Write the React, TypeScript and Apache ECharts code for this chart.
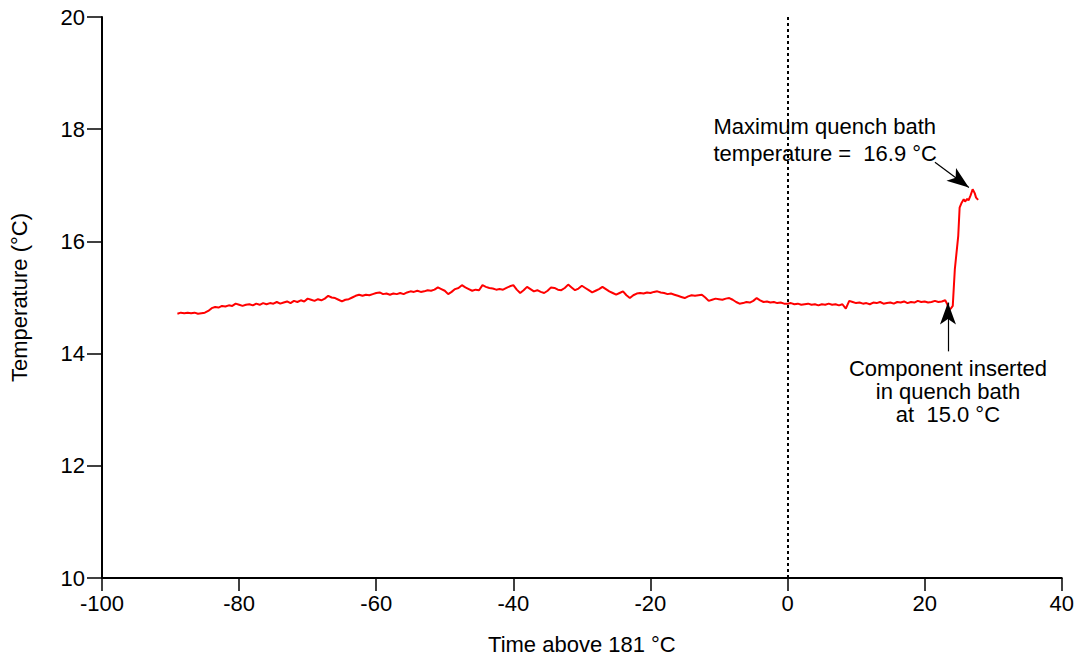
import React, { useEffect, useRef } from "react";
import * as echarts from "echarts";

// Sampled quench bath temperature (°C), every STEP seconds from START_TIME
const START_TIME = -89;
const STEP = 0.5;
const temps: number[] = [
  14.71, 14.73, 14.72, 14.73, 14.72, 14.73, 14.71, 14.72, 14.73, 14.76,
  14.81, 14.83, 14.82, 14.85, 14.84, 14.86, 14.85, 14.89, 14.87, 14.85,
  14.87, 14.88, 14.86, 14.89, 14.87, 14.9, 14.88, 14.9, 14.89, 14.92,
  14.89, 14.91, 14.93, 14.9, 14.94, 14.92, 14.95, 14.93, 14.98, 14.96,
  14.94, 14.97, 14.95, 14.98, 15.03, 15.0, 14.99, 14.96, 14.93, 14.96,
  14.97, 15.0, 15.03, 15.05, 15.03, 15.05, 15.04, 15.06, 15.08, 15.09,
  15.06, 15.07, 15.05, 15.07, 15.06, 15.08, 15.06, 15.09, 15.11, 15.1,
  15.12, 15.1, 15.11, 15.13, 15.12, 15.14, 15.18, 15.15, 15.12, 15.06,
  15.1, 15.15, 15.17, 15.22, 15.18, 15.15, 15.12, 15.14, 15.13, 15.22,
  15.19, 15.17, 15.16, 15.14, 15.15, 15.14, 15.17, 15.2, 15.22, 15.14,
  15.08, 15.13, 15.19, 15.15, 15.11, 15.13, 15.1, 15.08, 15.12, 15.18,
  15.17, 15.14, 15.13, 15.17, 15.23, 15.18, 15.13, 15.16, 15.21, 15.17,
  15.13, 15.09, 15.12, 15.15, 15.19, 15.15, 15.11, 15.08, 15.05, 15.08,
  15.11, 15.04, 14.99, 15.04, 15.07, 15.08, 15.07, 15.09, 15.08, 15.1,
  15.11, 15.09, 15.08, 15.06, 15.07, 15.05, 15.03, 15.01, 14.99, 15.02,
  15.04, 15.03, 15.04, 15.05, 15.0, 14.94, 14.96, 14.98, 14.97, 14.96,
  14.98, 14.99, 14.96, 14.92, 14.89, 14.9, 14.92, 14.91, 14.94, 14.99,
  14.95, 14.92, 14.93, 14.91, 14.92, 14.9, 14.91, 14.89, 14.89, 14.9,
  14.88, 14.89, 14.87, 14.88, 14.89, 14.87, 14.88, 14.86, 14.88, 14.87,
  14.89, 14.87, 14.88, 14.86, 14.88, 14.8, 14.94, 14.92, 14.9, 14.91,
  14.89, 14.9, 14.88, 14.91, 14.9, 14.92, 14.89, 14.9, 14.91, 14.89,
  14.92, 14.91, 14.93, 14.9, 14.92, 14.91, 14.94, 14.92, 14.93, 14.91,
  14.92, 14.94, 14.92, 14.93, 14.95,
];

// Immersion and peak: [time, temperature]
const tail: [number, number][] = [
  [23.3, 14.88], [23.5, 14.78], [23.8, 14.8], [24.1, 14.85], [24.4, 15.5],
  [24.9, 16.1], [25.1, 16.6], [25.4, 16.69], [25.7, 16.75], [25.9, 16.71],
  [26.2, 16.76], [26.4, 16.73], [26.7, 16.82], [27.0, 16.93], [27.3, 16.86],
  [27.5, 16.78], [27.8, 16.74],
];

const xTicks = [-100, 40, 20];
const yTicks = [10, 20, 2];

const maxArrow: [number, number][] = [[21.5, 17.41], [26.45, 16.96]];
const insertArrow: [number, number][] = [[23.4, 14.04], [23.4, 14.91]];
const maxLabel = ["Maximum quench bath", "temperature =  16.9 °C"];
const insertLabel = ["Component inserted", "in quench bath", "at  15.0 °C"];
const maxLabelAt: [number, number] = [-10.8, 18.29];
const insertLabelAt: [number, number] = [23.4, 13.94];

const FONT = "'Liberation Sans', Arial, sans-serif";
const FS = 22;

export default function App() {
  const ref = useRef<HTMLDivElement>(null);
  useEffect(() => {
    document.body.style.margin = "0";
    if (!ref.current) return;
    const chart = echarts.init(ref.current, undefined, { renderer: "svg" });
    const data: [number, number][] = temps.map((v, i) => [START_TIME + i * STEP, v]);
    tail.forEach((p) => data.push(p));

    const axisLine = { show: true, onZero: false, lineStyle: { color: "#000", width: 2 } };
    const tickStyle = { color: "#000", width: 1.5 };
    const nameTextStyle = { color: "#000", fontSize: FS, fontFamily: FONT };
    const arrowLine = { color: "#000", width: 1.2, type: "solid" };

    chart.setOption({
      animation: false,
      backgroundColor: "#fff",
      grid: { left: 101, right: 15, top: 17, bottom: 82, containLabel: false },
      xAxis: {
        type: "value",
        min: xTicks[0],
        max: xTicks[1],
        interval: xTicks[2],
        name: "Time above 181 °C",
        nameLocation: "middle",
        nameGap: 55,
        nameTextStyle,
        axisLine,
        splitLine: { show: false },
        axisTick: { show: true, inside: false, length: 13, lineStyle: tickStyle },
        axisLabel: { color: "#000", fontSize: FS, fontFamily: FONT, margin: 14 },
      },
      yAxis: {
        type: "value",
        min: yTicks[0],
        max: yTicks[1],
        interval: yTicks[2],
        name: "Temperature (°C)",
        nameLocation: "middle",
        nameGap: 72,
        nameTextStyle,
        axisLine,
        splitLine: { show: false },
        axisTick: { show: true, inside: false, length: 15, lineStyle: tickStyle },
        axisLabel: { color: "#000", fontSize: FS, fontFamily: FONT, margin: 17 },
      },
      series: [
        {
          type: "line",
          data,
          showSymbol: false,
          symbol: "none",
          lineStyle: { color: "#ff0000", width: 2 },
          markLine: {
            silent: true,
            animation: false,
            symbol: ["none", "none"],
            label: { show: false },
            data: [
              {
                xAxis: 0,
                lineStyle: { color: "#000", width: 2, type: [3, 3] },
              },
              [
                { coord: maxArrow[0], symbol: "none", lineStyle: arrowLine },
                { coord: maxArrow[1], symbol: "arrow", symbolSize: [12, 22] },
              ],
              [
                { coord: insertArrow[0], symbol: "none", lineStyle: arrowLine },
                { coord: insertArrow[1], symbol: "arrow", symbolSize: [12, 22] },
              ],
            ],
          },
        },
      ],
    });

    const p1 = chart.convertToPixel({ gridIndex: 0 }, maxLabelAt) as number[];
    const p2 = chart.convertToPixel({ gridIndex: 0 }, insertLabelAt) as number[];
    chart.setOption({
      graphic: [
        {
          type: "text",
          x: p1[0],
          y: p1[1],
          style: {
            text: maxLabel.join("\n"),
            font: `${FS}px ${FONT}`,
            fill: "#000",
            textAlign: "left",
            textVerticalAlign: "top",
            lineHeight: 27,
          },
        },
        {
          type: "text",
          x: p2[0],
          y: p2[1],
          style: {
            text: insertLabel.join("\n"),
            font: `${FS}px ${FONT}`,
            fill: "#000",
            textAlign: "center",
            textVerticalAlign: "top",
            lineHeight: 23,
          },
        },
      ],
    });

    return () => chart.dispose();
  }, []);
  return <div ref={ref} style={{ width: 1077, height: 660 }} />;
}
